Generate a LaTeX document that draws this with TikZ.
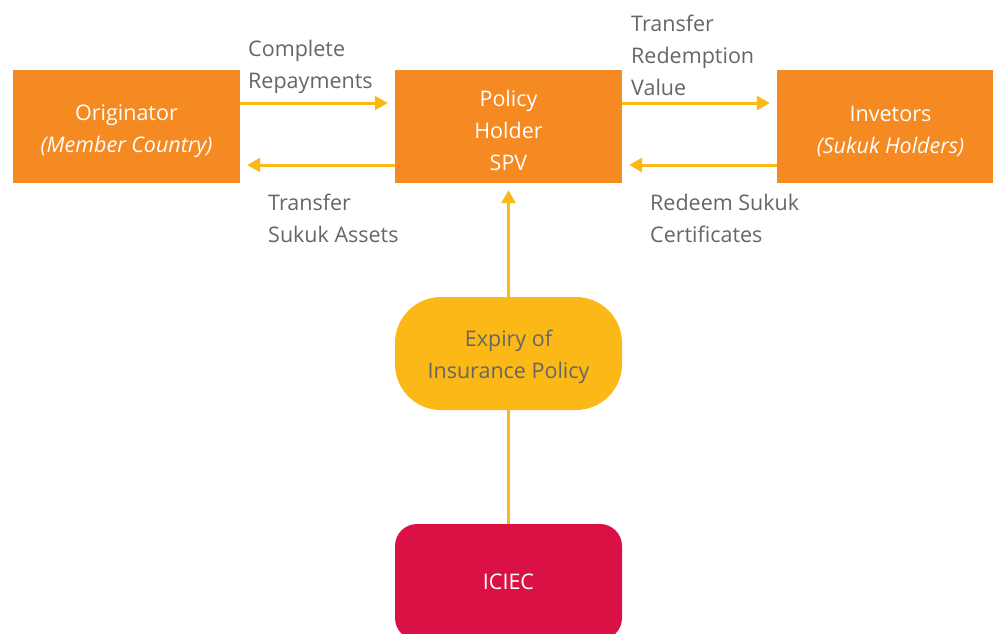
\documentclass[tikz,border=0pt]{standalone}
\usepackage{fontspec}
\setmainfont{Open Sans}
\usetikzlibrary{arrows.meta}
\definecolor{boxorange}{HTML}{F58A23}
\definecolor{flowyellow}{HTML}{FBB817}
\definecolor{iciecred}{HTML}{D91145}
\definecolor{labelgray}{HTML}{666666}
\tikzset{
    party/.style={fill=boxorange, text=white, minimum width=227pt, minimum height=113pt,
        align=center, inner sep=0pt, font=\fontsize{21.5}{32}\selectfont},
    flow/.style={draw=flowyellow, line width=3pt, -{Triangle[length=13pt,width=14pt]}, shorten >=7pt},
    flowlabel/.style={anchor=north west, inner sep=0pt, align=left, text=labelgray,
        font=\fontsize{21.5}{32}\selectfont}
}
\begin{document}
\begin{tikzpicture}[x=1pt,y=-1pt]
        \useasboundingbox (0,0) rectangle (993,633);

        % Draw the three parties
        \node[party] (orig) at (126.5,126.5) {\rule{0pt}{26pt}Originator\\\textit{(Member Country)}};
        \node[party] (ph) at (508.5,126.5) {\rule{0pt}{24pt}Policy\\Holder\\SPV};
        \node[party] (inv) at (890.5,126.5) {\rule{0pt}{26pt}Invetors\\\textit{(Sukuk Holders)}};

        % Draw policy and insurer
        \node[party, fill=flowyellow, text=labelgray, rounded corners=46pt] (exp) at (508.5,353.5) {\rule{0pt}{24pt}Expiry of\\Insurance Policy};
        \node[party, fill=iciecred, rounded corners=22pt, minimum height=116pt] (iciec) at (508.5,582) {ICIEC};

        % Flows between the parties
        \draw[flow] ([yshift=23.5pt]orig.east) -- ([yshift=23.5pt]ph.west);
        \draw[flow] ([yshift=-38.5pt]ph.west) -- ([yshift=-38.5pt]orig.east);
        \draw[flow] ([yshift=23.5pt]ph.east) -- ([yshift=23.5pt]inv.west);
        \draw[flow] ([yshift=-38.5pt]inv.west) -- ([yshift=-38.5pt]ph.east);
        \draw[flow] (exp) -- (ph);
        \draw[flow, -, shorten >=0pt] (iciec) -- (exp);

        % Labels of the flows
        \node[flowlabel] (lrepay) at (248,40) {Complete\\Repayments};
        \node[flowlabel] (lassets) at (268,194) {Transfer\\Sukuk Assets};
        \node[flowlabel] (lvalue) at (631,15) {Transfer\\Redemption\\Value};
        \node[flowlabel] (lredeem) at (650,194) {Redeem Sukuk\\Certificates};
    \end{tikzpicture}
\end{document}
